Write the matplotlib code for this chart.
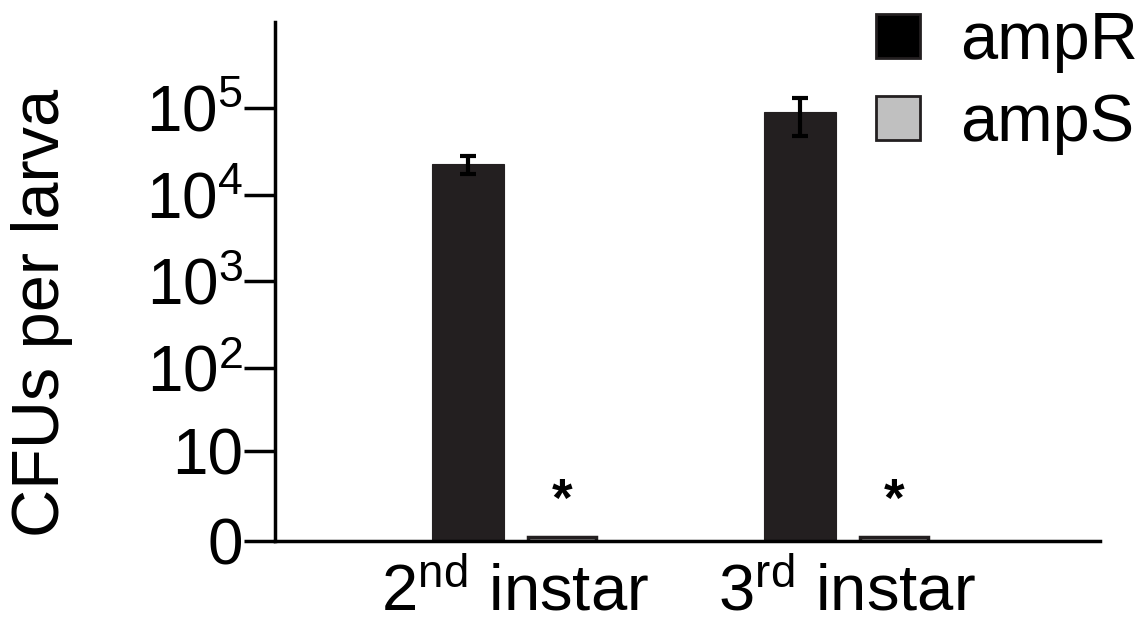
import numpy as np
import matplotlib
matplotlib.use("Agg")
import matplotlib.pyplot as plt
from matplotlib.patches import Patch

plt.rcParams['font.family'] = ['Liberation Sans', 'DejaVu Sans']
plt.rcParams['mathtext.fontset'] = 'custom'
plt.rcParams['mathtext.rm'] = 'Liberation Sans'
plt.rcParams['mathtext.it'] = 'Liberation Sans:italic'
plt.rcParams['mathtext.bf'] = 'Liberation Sans:bold'

# data (CFUs per larva)
stages = [r'2$^{\rm nd}$ instar', r'3$^{\rm rd}$ instar']
ampR = [23000, 90000]
ampR_err = [5500, 42000]
ampS = [0.12, 0.12]
star_y = [1.8, 1.8]
ytick_vals = [0, 10, 100, 1000, 10000, 100000]
ytick_labels = ['0', '10', r'10$^2$', r'10$^3$', r'10$^4$', r'10$^5$']

DARK = '#231f20'
GREY = '#c0c0c0'


def fwd(y):
    return np.log10(np.maximum(y, 0) + 1)


def inv(y):
    return 10 ** y - 1


fig = plt.figure(figsize=(11.46, 6.26), dpi=100)
ax = fig.add_axes([0.240, 0.136, 0.720, 0.829])
ax.set_yscale('function', functions=(fwd, inv))

x = np.arange(len(stages))
w = 0.217
off = 0.283

ax.bar(x - off / 2, ampR, width=w, color=DARK, edgecolor=DARK, linewidth=0.8)
ax.errorbar(x - off / 2, ampR, yerr=ampR_err, fmt='none', ecolor='black',
            elinewidth=3, capsize=6, capthick=3)
ax.bar(x + off / 2, ampS, width=w * 0.95, color=GREY, edgecolor=DARK, linewidth=2.5)
for xi, v in zip(x + off / 2, star_y):
    ax.text(xi, v, '*', ha='center', va='center', fontsize=38, fontweight='bold')

ax.set_xlim(-0.723, 1.762)
ax.set_ylim(0, 1e6)
ax.set_yticks(ytick_vals)
ax.set_yticklabels(ytick_labels)
ax.set_xticks(x)
ax.set_xticklabels(stages)

ax.tick_params(axis='y', length=22, width=2.5, labelsize=46, pad=1)
ax.tick_params(axis='x', length=0, labelsize=47, pad=14)
ax.minorticks_off()

for s in ['top', 'right']:
    ax.spines[s].set_visible(False)
ax.spines['left'].set_linewidth(2.5)
ax.spines['bottom'].set_linewidth(2.5)

ax.set_ylabel('CFUs per larva', fontsize=48)
ax.yaxis.label.set_va('center')
ax.yaxis.set_label_coords(-0.282, 0.44)

handles = [Patch(facecolor='black', edgecolor=DARK, linewidth=2),
           Patch(facecolor=GREY, edgecolor=DARK, linewidth=2)]
fig.legend(handles, ['ampR', 'ampS'], loc='upper right',
           bbox_to_anchor=(1.022, 1.035), frameon=False, fontsize=48,
           handlelength=0.66, handleheight=0.66, handletextpad=0.6,
           labelspacing=0.3, borderaxespad=0.1)

fig.savefig('out.png', dpi=100)
